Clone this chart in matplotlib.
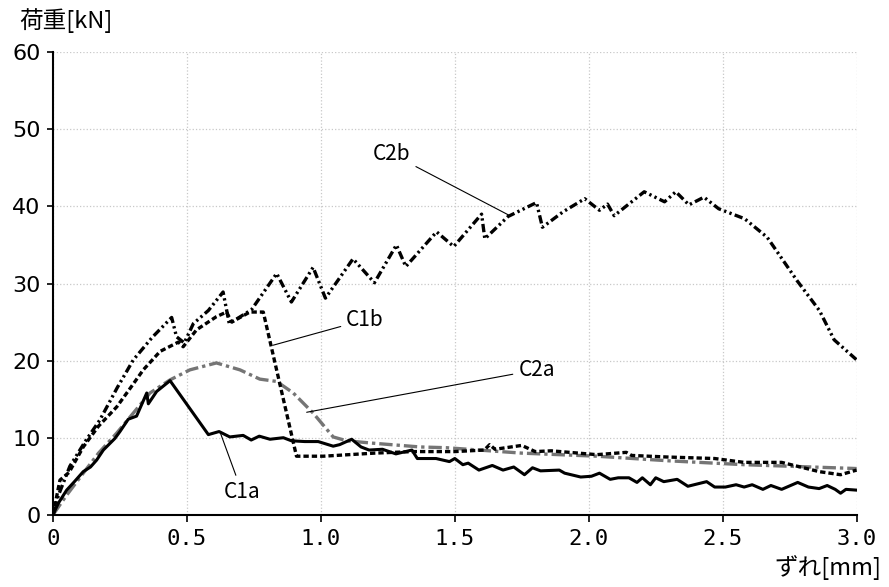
import matplotlib
matplotlib.use('Agg')
import matplotlib.pyplot as plt

plt.rcParams['font.family'] = ['Noto Sans CJK JP', 'DejaVu Sans']

# C1a - solid black
c1a_x = [0, 0.02, 0.051, 0.08, 0.113, 0.14, 0.163, 0.188, 0.231, 0.25, 0.281, 0.312, 0.35,
         0.356, 0.387, 0.437, 0.58, 0.62, 0.66, 0.71, 0.74, 0.77, 0.81, 0.86, 0.89, 0.94,
         0.99, 1.046, 1.07, 1.115, 1.15, 1.18, 1.23, 1.28, 1.34, 1.36, 1.43, 1.48, 1.50,
         1.53, 1.55, 1.59, 1.64, 1.68, 1.72, 1.76, 1.79, 1.82, 1.89, 1.91, 1.97, 2.01, 2.04,
         2.08, 2.11, 2.15, 2.18, 2.20, 2.23, 2.25, 2.28, 2.33, 2.37, 2.44, 2.47, 2.51, 2.55,
         2.58, 2.61, 2.65, 2.68, 2.72, 2.78, 2.82, 2.86, 2.89, 2.92, 2.94, 2.96, 3.0]
c1a_y = [0, 1.5, 3.2, 4.3, 5.6, 6.2, 7.1, 8.4, 9.9, 10.8, 12.4, 12.8, 15.8,
         14.4, 16.0, 17.4, 10.4, 10.8, 10.1, 10.3, 9.7, 10.2, 9.8, 10.0, 9.6, 9.5,
         9.5, 8.9, 9.1, 9.8, 8.8, 8.4, 8.5, 7.9, 8.4, 7.3, 7.3, 6.9, 7.3,
         6.5, 6.7, 5.8, 6.4, 5.8, 6.2, 5.2, 6.1, 5.7, 5.8, 5.4, 4.9, 5.0, 5.4,
         4.6, 4.8, 4.8, 4.2, 4.8, 3.9, 4.8, 4.3, 4.6, 3.7, 4.3, 3.6, 3.6, 3.9,
         3.6, 3.9, 3.3, 3.8, 3.3, 4.2, 3.6, 3.4, 3.8, 3.3, 2.8, 3.3, 3.2]

# C1b - dashed black
c1b_x = [0, 0.026, 0.06, 0.113, 0.17, 0.238, 0.29, 0.337, 0.4, 0.468, 0.486, 0.536, 0.61,
         0.648, 0.667, 0.735, 0.785, 0.909, 1.009, 1.2, 1.344, 1.5, 1.61, 1.63, 1.65, 1.75,
         1.80, 1.86, 2.03, 2.14, 2.16, 2.29, 2.47, 2.58, 2.72, 2.86, 2.94, 3.0]
c1b_y = [0, 4.5, 5.5, 8.8, 11.5, 14.0, 16.5, 18.8, 21.2, 22.4, 21.8, 24.0, 25.7,
         26.3, 25.0, 26.3, 26.3, 7.6, 7.6, 8.0, 8.2, 8.2, 8.4, 9.1, 8.5, 9.0,
         8.2, 8.3, 7.8, 8.1, 7.7, 7.5, 7.3, 6.8, 6.8, 5.6, 5.2, 5.8]

# C2a - gray dash-dot
c2a_x = [0, 0.05, 0.113, 0.17, 0.238, 0.3, 0.362, 0.437, 0.511, 0.61, 0.698, 0.772, 0.835,
         0.897, 0.971, 1.046, 1.096, 1.19, 1.37, 1.47, 1.75, 2.03, 2.3, 2.58, 3.0]
c2a_y = [0, 2.5, 5.4, 8.0, 10.6, 13.2, 15.8, 17.5, 18.8, 19.7, 18.8, 17.6, 17.3,
         15.8, 13.2, 10.1, 9.6, 9.3, 8.8, 8.7, 8.0, 7.6, 7.0, 6.5, 6.0]

# C2b - dash-dot-dot black
c2b_x = [0, 0.02, 0.063, 0.12, 0.175, 0.24, 0.3, 0.37, 0.443, 0.461, 0.49, 0.524, 0.58,
         0.635, 0.658, 0.741, 0.835, 0.89, 0.971, 1.017, 1.12, 1.20, 1.282, 1.317, 1.432,
         1.496, 1.6, 1.612, 1.699, 1.805, 1.827, 1.904, 1.985, 2.04, 2.07, 2.095, 2.207,
         2.283, 2.325, 2.374, 2.43, 2.485, 2.582, 2.666, 2.777, 2.861, 2.916, 3.0]
c2b_y = [0, 2.5, 6.3, 9.5, 12.3, 16.5, 20.1, 23.0, 25.6, 23.1, 22.3, 24.8, 26.5,
         28.9, 24.8, 26.6, 31.3, 27.6, 32.1, 28.1, 33.2, 30.1, 35.0, 32.2, 36.7,
         34.8, 39.0, 35.8, 38.7, 40.5, 37.3, 39.3, 41.0, 39.5, 40.3, 38.8, 41.9,
         40.6, 41.9, 40.2, 41.2, 39.7, 38.4, 36.0, 30.4, 26.5, 22.7, 20.1]

x_ticks = [0, 0.5, 1.0, 1.5, 2.0, 2.5, 3.0]
x_tick_labels = ['0', '0.5', '1.0', '1.5', '2.0', '2.5', '3.0']
y_ticks = [0, 10, 20, 30, 40, 50, 60]

# label text, text position, point on curve
labels = [
    ('C2b', (1.265, 46.8), (1.70, 38.9)),
    ('C1b', (1.165, 25.3), (0.822, 22.0)),
    ('C2a', (1.805, 18.8), (0.947, 13.3)),
    ('C1a', (0.705, 3.0), (0.623, 10.8)),
]

fig = plt.figure(figsize=(8.89, 5.87), dpi=100)
ax = fig.add_axes([0.0596, 0.123, 0.904, 0.788])

ax.plot(c1a_x, c1a_y, color='black', lw=2.2, ls='-', zorder=3)
l1b, = ax.plot(c1b_x, c1b_y, color='black', lw=2.4, zorder=3)
l1b.set_dashes((1.6, 0.9))
l2a, = ax.plot(c2a_x, c2a_y, color='#757575', lw=2.4, zorder=2)
l2a.set_dashes((4.0, 1.2, 1.0, 1.2))
l2b, = ax.plot(c2b_x, c2b_y, color='black', lw=2.4, zorder=3)
l2b.set_dashes((2.5, 1.0, 0.7, 1.0, 0.7, 1.0))

for text, txt_pos, pt in labels:
    ax.annotate(text, xy=pt, xytext=txt_pos, ha='center', va='center', fontsize=15,
                arrowprops=dict(arrowstyle='-', color='black', lw=0.8,
                                shrinkA=2, shrinkB=0))

ax.set_xlim(0, 3.0)
ax.set_ylim(0, 60)
ax.set_xticks(x_ticks)
ax.set_xticklabels(x_tick_labels, family='DejaVu Sans Mono', fontsize=16)
ax.set_yticks(y_ticks)
ax.set_yticklabels([str(v) for v in y_ticks], family='DejaVu Sans', fontsize=16)
ax.tick_params(axis='y', length=4, width=1.2, pad=5)
ax.tick_params(axis='x', length=5, width=1.2, pad=5)

ax.grid(True, color='#c8c8c8', ls=':', lw=0.9)
ax.set_axisbelow(True)
for side in ['top', 'right']:
    ax.spines[side].set_visible(False)
for side in ['left', 'bottom']:
    ax.spines[side].set_linewidth(1.5)

fig.text(0.022, 0.965, '荷重[kN]', fontsize=17, ha='left', va='center')
fig.text(0.992, 0.033, 'ずれ[mm]', fontsize=17, ha='right', va='center')

plt.savefig('out.png', dpi=100)
